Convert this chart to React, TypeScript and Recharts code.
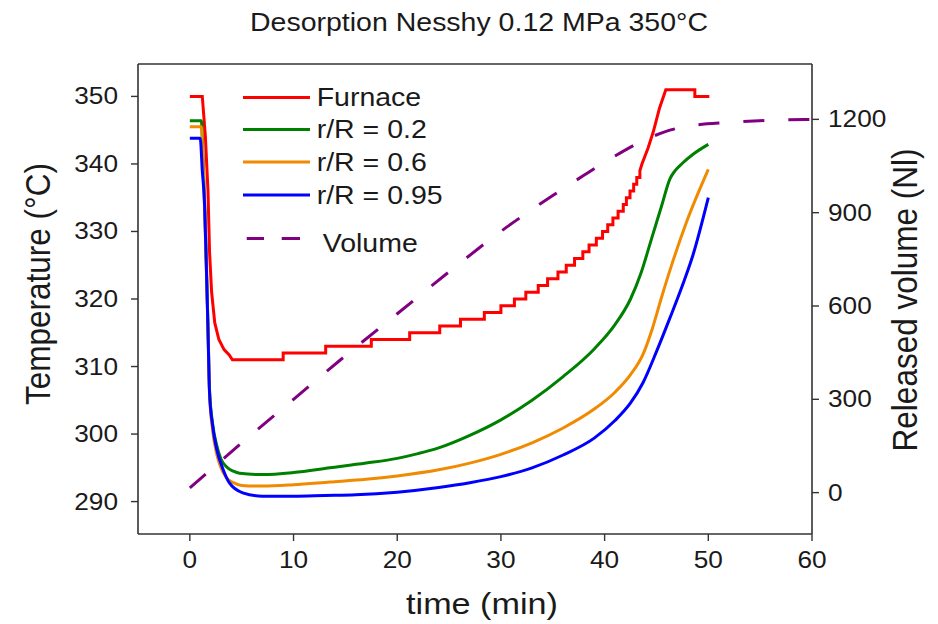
import React from 'react';
import { ComposedChart, Line, XAxis, YAxis, Legend, ReferenceLine } from 'recharts';

type Pt = [number, number];

// [time (min), temperature (°C)]
const furnace: Pt[] = [
  [0, 350], [1.2, 350], [1.5, 344], [1.75, 336], [1.9, 327], [2.1, 321], [2.4, 316.5], [2.8, 314],
  [3.3, 312.5], [3.8, 311.7], [4.1, 311], [9.0, 311], [9.0, 312], [13.1, 312], [13.1, 313],
  [17.5, 313], [17.5, 314], [21.2, 314], [21.2, 315], [24.1, 315], [24.1, 316], [26.1, 316],
  [26.1, 317], [28.4, 317], [28.4, 318], [30.0, 318], [30.0, 319], [31.3, 319], [31.3, 320],
  [32.4, 320], [32.4, 321], [33.6, 321], [33.6, 322], [34.5, 322], [34.5, 323], [35.5, 323],
  [35.5, 324], [36.3, 324], [36.3, 325], [37.1, 325], [37.1, 326], [37.9, 326], [37.9, 327],
  [38.5, 327], [38.5, 328], [39.2, 328], [39.2, 329], [39.8, 329], [39.8, 330], [40.3, 330],
  [40.3, 331], [40.8, 331], [40.8, 332], [41.3, 332], [41.3, 333], [41.8, 333], [41.8, 334],
  [42.1, 334], [42.1, 335], [42.45, 335], [42.45, 336], [42.8, 336], [42.8, 337], [43.1, 337],
  [43.1, 338], [43.4, 338], [43.4, 339], [43.6, 340], [44.2, 342.4], [44.7, 344.8], [45.3, 348.3],
  [45.9, 351], [48.7, 351], [48.7, 350], [50.1, 350],
];

const r02: Pt[] = [
  [0, 346.4], [1.1, 346.4], [1.3, 340], [1.45, 333], [1.6, 325], [1.75, 316], [1.9, 306.5],
  [2.2, 301.5], [2.6, 298.3], [3.0, 296.3], [3.5, 295.2], [4.2, 294.5], [4.8, 294.2], [7, 294.0],
  [10, 294.3], [13.5, 295.0], [17, 295.7], [20, 296.4], [22, 297.1], [24, 297.95], [27, 299.8],
  [30, 302.1], [33, 305.0], [36, 308.5], [39, 312.6], [41, 316.2], [42.5, 320.0], [43.5, 323.8],
  [44.5, 328.8], [45.5, 333.8], [46.3, 337.8], [46.8, 339.0], [47.5, 340.1], [48.5, 341.4],
  [50.0, 342.9],
];

const r06: Pt[] = [
  [0, 345.5], [1.1, 345.5], [1.3, 339], [1.45, 332], [1.6, 324], [1.75, 315.5], [1.9, 306],
  [2.2, 300.5], [2.6, 297], [3.0, 295], [3.5, 293.6], [4.2, 292.8], [5, 292.4], [7, 292.3],
  [10, 292.5], [13.5, 292.9], [17, 293.3], [20, 293.8], [24, 294.7], [27, 295.7], [30, 297.0],
  [33, 298.7], [36, 300.9], [39, 303.7], [41, 306.2], [42.5, 308.8], [43.7, 311.8], [44.6, 315.6],
  [45.5, 320.3], [46.5, 325.2], [47.9, 331.4], [50.0, 339.2],
];

const r095: Pt[] = [
  [0, 343.8], [1.0, 343.8], [1.2, 339], [1.42, 334], [1.58, 325.5], [1.74, 316], [1.9, 306.1],
  [2.2, 301.2], [2.6, 297.7], [3.2, 294.8], [3.8, 292.8], [5.1, 291.3], [7, 290.8], [10, 290.8],
  [13, 290.9], [16, 291.0], [20, 291.4], [24, 292.1], [27, 292.8], [30, 293.7], [33, 295.0],
  [36, 296.9], [39, 299.4], [41, 302.0], [42.5, 304.6], [43.7, 307.6], [45, 312.2], [46.3, 317.2],
  [47.5, 322.0], [48.5, 326.4], [50.0, 335.0],
];

// [time (min), released volume (Nl)]
const volume: Pt[] = [
  [0, 15], [5, 160], [10, 300], [15, 440], [20, 575], [25, 710], [30, 840], [35, 955],
  [38, 1020], [40, 1062], [44, 1136], [46, 1162], [48, 1178], [52, 1190], [56, 1197], [60, 1200],
];

const timeTicks = [0, 10, 20, 30, 40, 50, 60];
const tempTicks = [290, 300, 310, 320, 330, 340, 350];
const volumeTicks = [0, 300, 600, 900, 1200];
const legendOrder = ['Furnace', 'r/R = 0.2', 'r/R = 0.6', 'r/R = 0.95', 'Volume'];

const toRows = (pts: Pt[]) => pts.map(([t, v]) => ({ t, v }));

const FONT = '"Liberation Sans", Arial, Helvetica, sans-serif';
const SX = 1.14;
const INK = '#1a1a1a';
const AX = '#333333';
const TEMP_DOMAIN: [number, number] = [285.2, 354.8];

function SText({ x, y, size, anchor = 'start', rotate = false, children }: any) {
  const tf = `translate(${x} ${y}) scale(${SX} 1)${rotate ? ' rotate(-90)' : ''}`;
  return (
    <text transform={tf} x={0} y={0} fontSize={size} fontFamily={FONT} textAnchor={anchor} fill={INK}>
      {children}
    </text>
  );
}

const XTick = (p: any) => (
  <SText x={p.x} y={p.y + 25} size={23} anchor="middle">{p.payload.value}</SText>
);
const LTick = (p: any) => (
  <SText x={p.x - 11} y={p.y + 8} size={23} anchor="end">{p.payload.value}</SText>
);
const RTick = (p: any) => (
  <SText x={p.x + 7} y={p.y + 8} size={23} anchor="start">{p.payload.value}</SText>
);

const legendRows = [97.5, 129.5, 162, 195, 238.5];

const LegendBox = ({ payload }: any) => {
  const items = legendOrder
    .map((n) => (payload || []).find((e: any) => e.value === n))
    .filter(Boolean);
  return (
    <svg width={460} height={270} style={{ display: 'block', overflow: 'visible' }}>
      {items.map((e: any, i: number) => {
        const y = legendRows[i];
        const dashed = !!(e.payload && e.payload.strokeDasharray);
        return (
          <g key={i}>
            {dashed ? (
              <g>
                <line x1={246.7} x2={264} y1={y} y2={y} stroke={e.color} strokeWidth={3} />
                <line x1={281.7} x2={300} y1={y} y2={y} stroke={e.color} strokeWidth={3} />
              </g>
            ) : (
              <line x1={243} x2={310} y1={y} y2={y} stroke={e.color} strokeWidth={3} />
            )}
            <SText x={dashed ? 322.7 : 316.7} y={y + (dashed ? 13 : 8.5)} size={25}>{e.value}</SText>
          </g>
        );
      })}
    </svg>
  );
};

export default function App() {
  return (
    <div style={{ position: 'relative', width: 938, height: 624 }}>
      <style>{'body{margin:0;background:#fff;}'}</style>
      <ComposedChart width={938} height={624} margin={{ top: 64, right: 0, bottom: 0, left: 0 }}>
        <XAxis
          xAxisId="b"
          type="number"
          dataKey="t"
          domain={[-5, 60]}
          allowDataOverflow
          ticks={timeTicks}
          height={90}
          tickSize={7}
          axisLine={{ stroke: AX, strokeWidth: 1.6 }}
          tickLine={{ stroke: AX, strokeWidth: 1.4 }}
          tick={<XTick />}
          label={{
            content: () => (
              <g>
                <SText x={482} y={614} size={30} anchor="middle">time (min)</SText>
                <SText x={479} y={31} size={25} anchor="middle">Desorption Nesshy 0.12 MPa 350°C</SText>
              </g>
            ),
          }}
        />
        <YAxis
          yAxisId="temp"
          type="number"
          domain={TEMP_DOMAIN}
          allowDataOverflow
          ticks={tempTicks}
          width={138}
          tickSize={7}
          axisLine={{ stroke: AX, strokeWidth: 1.6 }}
          tickLine={{ stroke: AX, strokeWidth: 1.4 }}
          tick={<LTick />}
          label={{ content: () => <SText x={50} y={284} size={31.5} anchor="middle" rotate>Temperature (°C)</SText> }}
        />
        <YAxis
          yAxisId="vol"
          orientation="right"
          type="number"
          domain={[-133, 1378]}
          allowDataOverflow
          ticks={volumeTicks}
          width={126}
          tickSize={7}
          axisLine={{ stroke: AX, strokeWidth: 1.6 }}
          tickLine={{ stroke: AX, strokeWidth: 1.4 }}
          tick={<RTick />}
          label={{ content: () => <SText x={917} y={300} size={31.5} anchor="middle" rotate>Released volume (Nl)</SText> }}
        />
        <ReferenceLine xAxisId="b" yAxisId="temp" y={TEMP_DOMAIN[1]} stroke={AX} strokeWidth={1.6} />
        <Legend
          layout="vertical"
          align="center"
          verticalAlign="middle"
          content={<LegendBox />}
          wrapperStyle={{ position: 'absolute', left: 0, top: 0, width: 460, height: 270 }}
        />
        <Line xAxisId="b" yAxisId="temp" data={toRows(furnace)} dataKey="v" name="Furnace" type="linear"
          stroke="#ff0000" strokeWidth={3} dot={false} activeDot={false} isAnimationActive={false} />
        <Line xAxisId="b" yAxisId="temp" data={toRows(r02)} dataKey="v" name="r/R = 0.2" type="monotone"
          stroke="#008000" strokeWidth={3} dot={false} activeDot={false} isAnimationActive={false} />
        <Line xAxisId="b" yAxisId="temp" data={toRows(r06)} dataKey="v" name="r/R = 0.6" type="monotone"
          stroke="#f08a00" strokeWidth={3} dot={false} activeDot={false} isAnimationActive={false} />
        <Line xAxisId="b" yAxisId="temp" data={toRows(r095)} dataKey="v" name="r/R = 0.95" type="monotone"
          stroke="#0000ff" strokeWidth={3} dot={false} activeDot={false} isAnimationActive={false} />
        <Line xAxisId="b" yAxisId="vol" data={toRows(volume)} dataKey="v" name="Volume" type="monotone"
          stroke="#800080" strokeWidth={3} strokeDasharray="21 24" dot={false} activeDot={false} isAnimationActive={false} />
      </ComposedChart>
    </div>
  );
}
